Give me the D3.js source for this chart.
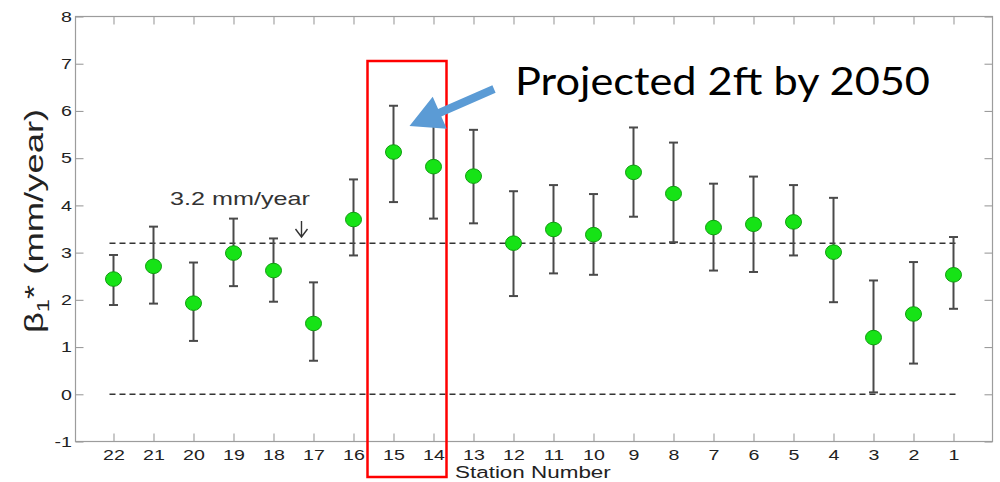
<!DOCTYPE html>
<html>
<head>
<meta charset="utf-8">
<script src="https://cdn.jsdelivr.net/npm/d3@7"></script>
<style>
  body { margin: 0; background: #fff; }
</style>
</head>
<body>
<svg id="chart" width="1000" height="482"></svg>
<script>
// ---- data ----
// stations in the order printed on the axis, 22 on the left .. 1 on the right
const stations = [22, 21, 20, 19, 18, 17, 16, 15, 14, 13, 12, 11, 10, 9, 8, 7, 6, 5, 4, 3, 2, 1];
const beta  = [2.44, 2.71, 1.93, 2.99, 2.62, 1.50, 3.70, 5.13, 4.82, 4.62, 3.20, 3.49, 3.38, 4.70, 4.25, 3.53, 3.60, 3.65, 3.01, 1.20, 1.70, 2.53];
const upper = [2.95, 3.55, 2.79, 3.72, 3.30, 2.37, 4.55, 6.11, 5.84, 5.60, 4.30, 4.43, 4.24, 5.65, 5.33, 4.46, 4.61, 4.43, 4.16, 2.41, 2.80, 3.33];
const lower = [1.89, 1.92, 1.13, 2.29, 1.96, 0.71, 2.94, 4.07, 3.72, 3.62, 2.08, 2.56, 2.53, 3.76, 3.22, 2.62, 2.59, 2.94, 1.95, 0.04, 0.65, 1.81];
const yTicks = [-1, 0, 1, 2, 3, 4, 5, 6, 7, 8];
const refLines = [0, 3.2];
const refLabel = "3.2 mm/year";
const highlight = [15, 14];
const calloutText = "Projected 2ft by 2050";

const rows = stations.map((s, i) => ({ s: s, v: beta[i], hi: upper[i], lo: lower[i] }));

// ---- layout ----
const svg = d3.select("#chart");
const x = d3.scaleLinear().domain([22.95, 0.025]).range([75.5, 992.5]);
const y = d3.scaleLinear().domain([-1, 8]).range([441.5, 16.5]);
const SX = 1.4;            // matlab export was stretched sideways
const font = "'Liberation Sans', Arial, sans-serif";
const frameCol = "#9c9c9c";
const plain = d => String(d);   // keep the ascii hyphen on -1

// frame
svg.append("rect")
  .attr("x", x.range()[0]).attr("y", y.range()[1])
  .attr("width", x.range()[1] - x.range()[0])
  .attr("height", y.range()[0] - y.range()[1])
  .attr("fill", "none").attr("stroke", frameCol).attr("stroke-width", 1.2);

function tidy(g) {
  g.select(".domain").remove();
  g.selectAll(".tick line").attr("stroke", frameCol).attr("stroke-width", 1.1);
  g.attr("font-family", font).attr("font-size", 14);
  g.selectAll(".tick text").attr("fill", "#222");
}

// bottom axis
svg.append("g")
  .attr("transform", `translate(0,${y(-1)})`)
  .call(d3.axisBottom(x).tickValues(stations).tickSize(-8).tickFormat(plain))
  .call(tidy)
  .selectAll(".tick text")
  .attr("y", 18.5).attr("dy", null)
  .attr("transform", `scale(${SX},1)`);

// top axis (ticks only)
svg.append("g")
  .attr("transform", `translate(0,${y(8)})`)
  .call(d3.axisTop(x).tickValues(stations).tickSize(-8).tickFormat(""))
  .call(tidy);

// left axis
svg.append("g")
  .attr("transform", `translate(${x.range()[0]},0)`)
  .call(d3.axisLeft(y).tickValues(yTicks).tickSize(-8).tickFormat(plain))
  .call(tidy)
  .selectAll(".tick text")
  .attr("x", -3.5 / SX).attr("dy", "0.34em")
  .attr("transform", `scale(${SX},1)`);

// right axis (ticks only)
svg.append("g")
  .attr("transform", `translate(${x.range()[1]},0)`)
  .call(d3.axisRight(y).tickValues(yTicks).tickSize(-8).tickFormat(""))
  .call(tidy);

// axis titles
svg.append("text")
  .attr("transform", `translate(455,478) scale(1.32,1)`)
  .attr("font-family", font).attr("font-size", 17).attr("fill", "#222")
  .text("Station Number");

const yl = svg.append("text")
  .attr("transform", `translate(43,221) rotate(-90) scale(${SX},1)`)
  .attr("text-anchor", "middle")
  .attr("font-family", font).attr("font-size", 26).attr("fill", "#222");
yl.append("tspan").text("\u03B2");
yl.append("tspan").attr("font-size", 17).attr("dy", 6).text("1");
yl.append("tspan").attr("dy", -6).text("* (mm/year)");

// dashed reference lines
svg.selectAll(".ref").data(refLines).join("line")
  .attr("class", "ref")
  .attr("x1", x(22.1)).attr("x2", x(0.9))
  .attr("y1", d => y(d)).attr("y2", d => y(d))
  .attr("stroke", "#333").attr("stroke-width", 1.5)
  .attr("stroke-dasharray", "6,4");

// 3.2 label + little down arrow
svg.append("text")
  .attr("transform", `translate(170,205) scale(${SX},1)`)
  .attr("font-family", font).attr("font-size", 18).attr("fill", "#333")
  .text(refLabel);
const ax = x(17.3), ay0 = y(3.67), ay1 = y(3.33);
svg.append("path")
  .attr("d", `M${ax},${ay0}V${ay1}M${ax - 6},${ay1 - 8}L${ax},${ay1}L${ax + 6},${ay1 - 8}`)
  .attr("fill", "none").attr("stroke", "#333").attr("stroke-width", 1.4);

// error bars
const bars = svg.append("g").attr("stroke", "#4a4a4a").attr("stroke-width", 2);
bars.selectAll(".stem").data(rows).join("line")
  .attr("x1", d => x(d.s)).attr("x2", d => x(d.s))
  .attr("y1", d => y(d.hi)).attr("y2", d => y(d.lo));
bars.selectAll(".capt").data(rows).join("line")
  .attr("x1", d => x(d.s) - 4.5).attr("x2", d => x(d.s) + 4.5)
  .attr("y1", d => y(d.hi)).attr("y2", d => y(d.hi));
bars.selectAll(".capb").data(rows).join("line")
  .attr("x1", d => x(d.s) - 4.5).attr("x2", d => x(d.s) + 4.5)
  .attr("y1", d => y(d.lo)).attr("y2", d => y(d.lo));

// markers
svg.selectAll(".pt").data(rows).join("ellipse")
  .attr("cx", d => x(d.s)).attr("cy", d => y(d.v))
  .attr("rx", 8).attr("ry", 7.3)
  .attr("fill", "#16e316").attr("stroke", "#0f9c0f").attr("stroke-width", 1);

// red highlight box around stations 15 and 14
const bx0 = x(highlight[0] + 0.65), bx1 = x(highlight[1] - 0.325);
svg.append("rect")
  .attr("x", bx0).attr("y", 61)
  .attr("width", bx1 - bx0).attr("height", 416)
  .attr("fill", "none").attr("stroke", "#ff0000").attr("stroke-width", 2.5);

// blue call-out arrow
const tip = [409.5, 126], tail = [494, 89];
const len = Math.hypot(tail[0] - tip[0], tail[1] - tip[1]);
const u = [(tail[0] - tip[0]) / len, (tail[1] - tip[1]) / len];
const n = [-u[1], u[0]];
const headL = 33, headW = 17.5, shaftW = 4;
const hb = [tip[0] + u[0] * headL, tip[1] + u[1] * headL];
const P = (p, k, w) => [p[0] + n[0] * w * k, p[1] + n[1] * w * k];
const arrowPts = [tip, P(hb, 1, headW), P(hb, 1, shaftW), P(tail, 1, shaftW),
                  P(tail, -1, shaftW), P(hb, -1, shaftW), P(hb, -1, headW)];
svg.append("polygon")
  .attr("points", arrowPts.map(p => p.join(",")).join(" "))
  .attr("fill", "#5b9bd5");

svg.append("text")
  .attr("x", 515).attr("y", 95)
  .attr("font-family", "Lato, 'Open Sans', sans-serif").attr("font-size", 38)
  .attr("textLength", 415).attr("lengthAdjust", "spacingAndGlyphs")
  .attr("fill", "#000")
  .text(calloutText);
</script>
</body>
</html>
